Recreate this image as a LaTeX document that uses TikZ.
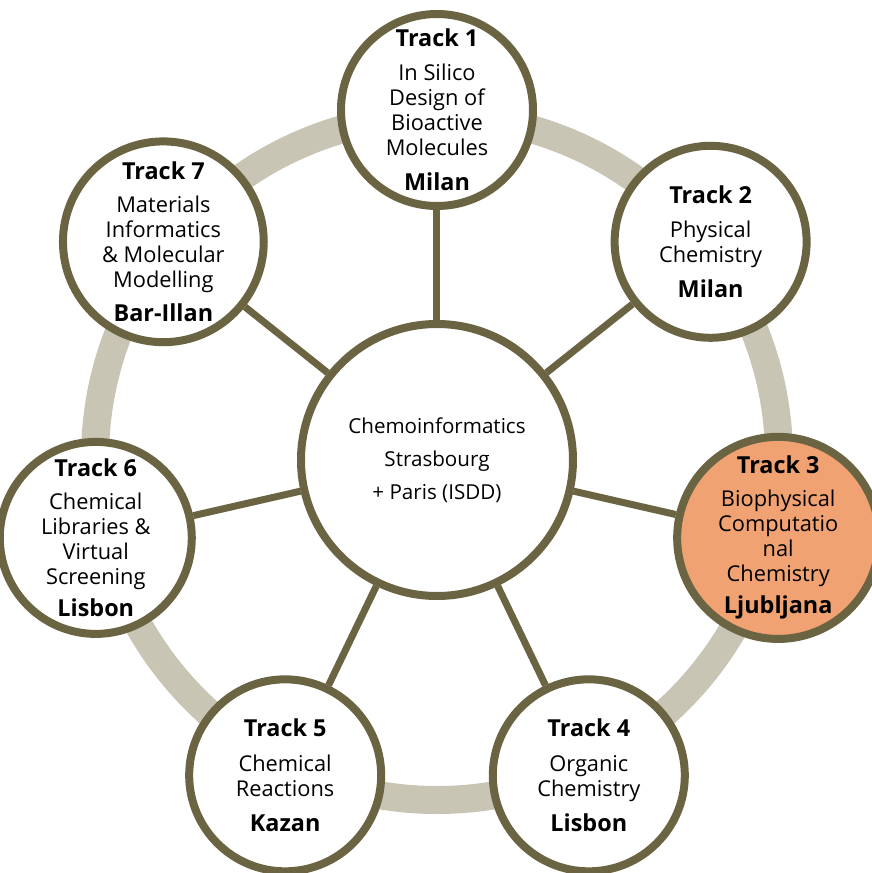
\documentclass[tikz,border=0pt]{standalone}
\usepackage{fontspec}
\setmainfont{Open Sans}
\usepackage{tikz}
\usetikzlibrary{shapes,
                positioning}
\definecolor{olive}{HTML}{6B6442}
\definecolor{ringgray}{HTML}{C8C5B4}
\definecolor{salmon}{HTML}{F0A272}
\tikzset{hub/.style =
   {circle,
    draw=olive,
    line width=4pt,
    fill=white,
    align=center,
    minimum size=136pt,
    font=\fontsize{10.3}{16.5}\selectfont}}
\tikzset{track/.style =
   {circle,
    draw=olive,
    line width=4pt,
    fill=white,
    align=center,
    inner sep=0pt,
    minimum size=96pt,
    font=\fontsize{10.9}{12.5}\selectfont}}
\tikzset{spoke/.style = {draw=olive, line width=3.5pt}}
\tikzset{ring/.style = {draw=ringgray, line width=14pt}}
\newcommand{\tracktitle}[1]{{\fontsize{11.7}{12.5}\selectfont\bfseries Track #1}}
\newcommand{\trackcity}[1]{{\fontsize{11.7}{12.5}\selectfont\bfseries #1}}

\begin{document}
\begin{tikzpicture}[auto]

    \useasboundingbox (-218.5pt,-206.5pt) rectangle (217.5pt,230pt);

    \coordinate (c) at (0,0);
    \draw [ring] (0,1pt) circle (171pt);

    \node [hub] (hub) at (c)
    {Chemoinformatics\\
     Strasbourg\\
     + Paris (ISDD)};

    \node [track] (t1) at (90:175pt)
    {\tracktitle{1}\\[4.5pt]
     In Silico\\
     Design of\\
     Bioactive\\
     Molecules\\[5pt]
     \trackcity{Milan}};

    \node [track] (t2) at (38.57:175pt)
    {\tracktitle{2}\\[4.5pt]
     Physical\\
     Chemistry\\[5pt]
     \trackcity{Milan}};

    \node [track,
           fill=salmon] (t3) at (-12.86:175pt)
    {\tracktitle{3}\\[4pt]
     Biophysical\\
     Computatio\\
     nal\\
     Chemistry\\[3.5pt]
     \trackcity{Ljubljana}};

    \node [track] (t4) at (-64.29:175pt)
    {\tracktitle{4}\\[5pt]
     Organic\\
     Chemistry\\[5pt]
     \trackcity{Lisbon}};

    \node [track] (t5) at (-115.71:175pt)
    {\tracktitle{5}\\[5pt]
     Chemical\\
     Reactions\\[5pt]
     \trackcity{Kazan}};

    \node [track] (t6) at (-167.14:175pt)
    {\tracktitle{6}\\[4pt]
     Chemical\\
     Libraries \&\\
     Virtual\\
     Screening\\[3.5pt]
     \trackcity{Lisbon}};

    \node [track] (t7) at (141.43:175pt)
    {\tracktitle{7}\\[4pt]
     Materials\\
     Informatics\\
     \& Molecular\\
     Modelling\\[4.5pt]
     \trackcity{Bar-Illan}};

    % spokes from the hub
    \foreach \t in {t1,t2,t3,t4,t5,t6,t7}
        \path [spoke] (hub) -- (\t);

\end{tikzpicture}
\end{document}
